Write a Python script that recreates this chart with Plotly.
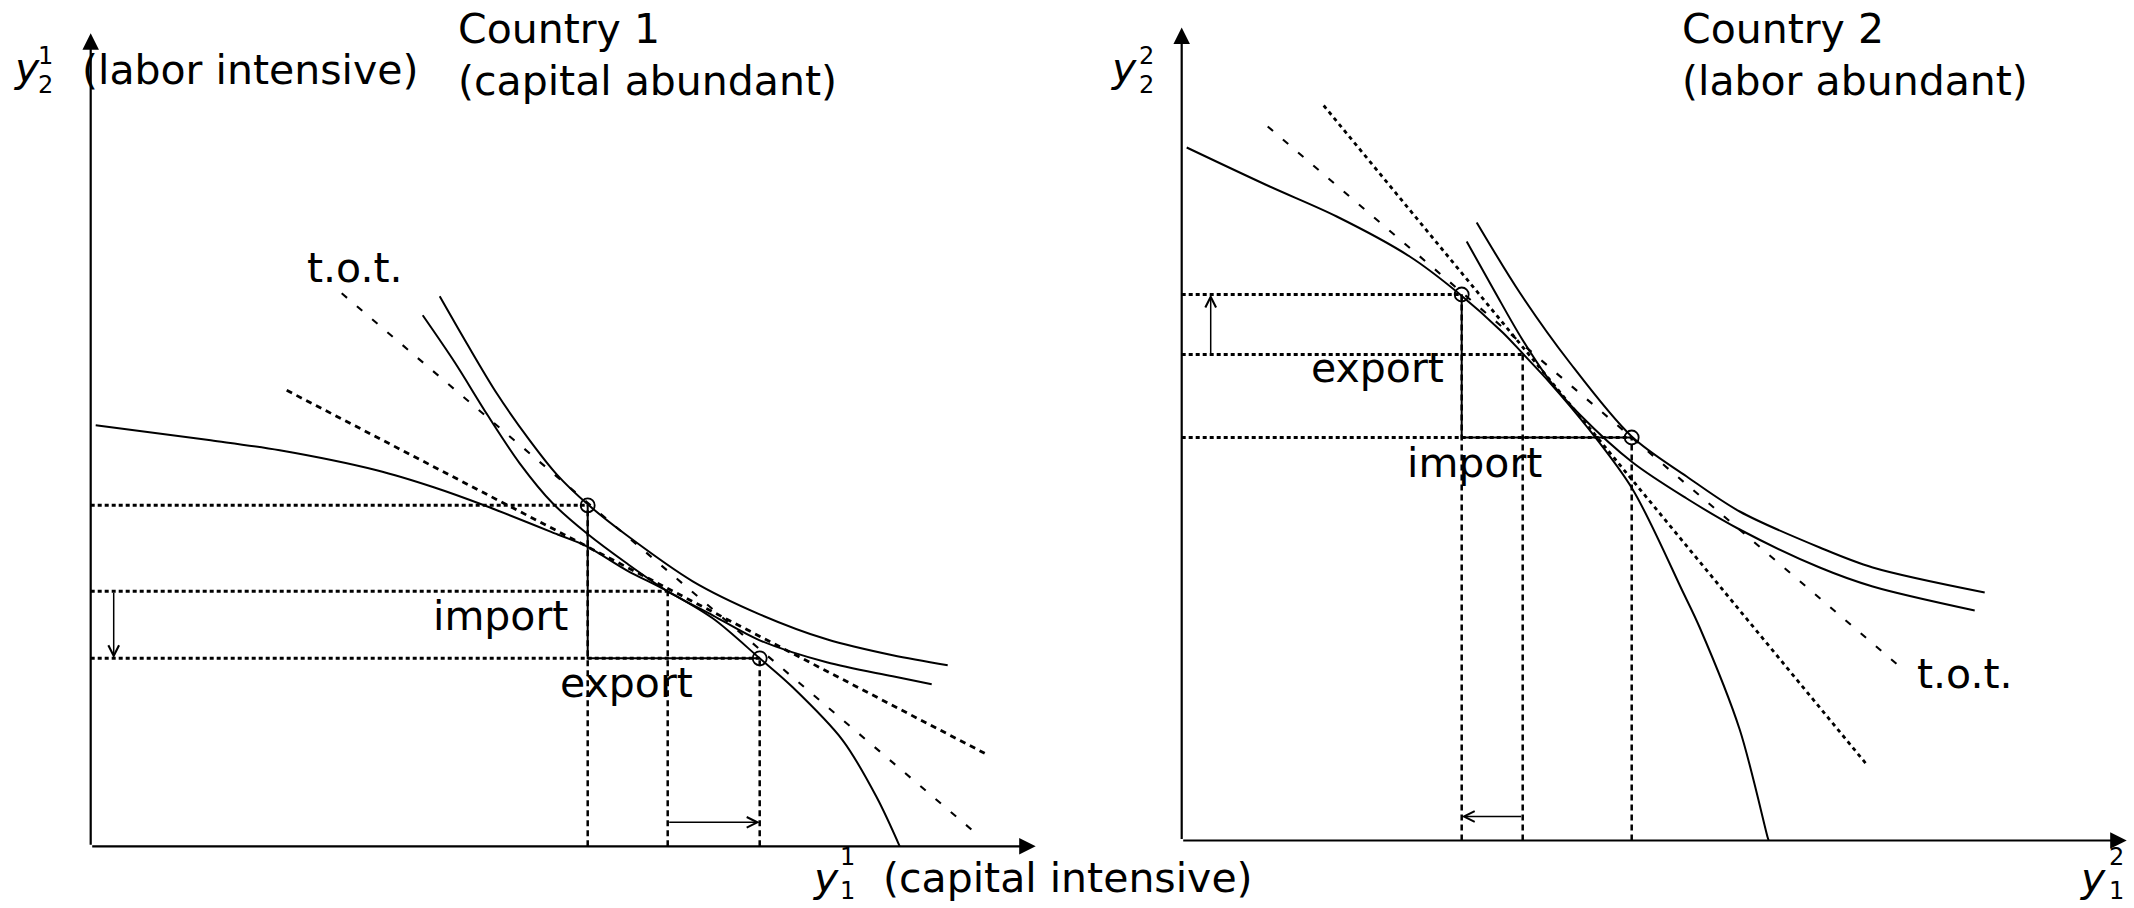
import plotly.graph_objects as go

# ---------------- Country 1 (left panel), model units ----------------
ppf1_x = [0.05, 1.20, 1.89, 2.86, 3.43, 3.96, 4.69, 4.96, 5.36, 5.77, 6.22, 6.69, 7.02, 7.52, 7.86, 8.09]
ppf1_y = [4.21, 4.06, 3.96, 3.76, 3.59, 3.40, 3.11, 3.00, 2.76, 2.55, 2.28, 1.88, 1.59, 1.06, 0.49, 0.00]
ic1_lo_x = [3.32, 3.64, 3.97, 4.29, 4.62, 4.96, 5.36, 5.77, 6.22, 6.69, 7.36, 8.02, 8.41]
ic1_lo_y = [5.31, 4.84, 4.31, 3.83, 3.43, 3.13, 2.83, 2.55, 2.31, 2.06, 1.84, 1.70, 1.62]
ic1_hi_x = [3.49, 3.76, 4.06, 4.39, 4.66, 4.97, 5.36, 6.02, 6.69, 7.36, 8.02, 8.57]
ic1_hi_y = [5.50, 5.03, 4.53, 4.06, 3.72, 3.42, 3.11, 2.65, 2.32, 2.07, 1.91, 1.81]
tot1_x = [2.51, 8.84]
tot1_y = [5.53, 0.14]
aut1_x = [1.96, 8.94]
aut1_y = [4.56, 0.93]
prod1 = [6.69, 1.88]   # production point
cons1 = [4.97, 3.41]   # consumption point
autk1 = [5.77, 2.55]   # autarky point

# ---------------- Country 2 (right panel), model units ----------------
ppf2_x = [0.05, 0.88, 1.55, 2.28, 2.76, 3.21, 3.41, 3.68, 4.05, 4.51, 5.01, 5.18, 5.58, 5.86, 5.87]
ppf2_y = [6.93, 6.54, 6.24, 5.84, 5.48, 5.08, 4.87, 4.58, 4.14, 3.51, 2.49, 2.13, 1.11, 0.03, 0.00]
ic2_lo_x = [2.85, 3.13, 3.40, 3.68, 3.98, 4.51, 5.05, 5.58, 6.38, 6.91, 7.93]
ic2_lo_y = [5.99, 5.49, 5.02, 4.60, 4.26, 3.78, 3.42, 3.11, 2.73, 2.54, 2.30]
ic2_hi_x = [2.95, 3.38, 3.88, 4.50, 5.05, 5.58, 6.38, 6.91, 8.03]
ic2_hi_y = [6.18, 5.48, 4.78, 4.04, 3.64, 3.29, 2.93, 2.73, 2.48]
tot2_x = [0.86, 7.18]
tot2_y = [7.14, 1.74]
aut2_x = [1.42, 6.85]
aut2_y = [7.35, 0.76]
prod2 = [2.80, 5.46]
cons2 = [4.50, 4.03]
autk2 = [3.41, 4.86]

axis_len = [9.45, 8.13, 9.45, 8.13]  # x1 tip, y1 tip, x2 tip, y2 tip

W, H = 2134, 908
FONT = "DejaVu Sans"
FS = 41
FS_SMALL = 24
K = "black"

fig = go.Figure()


def line(x, y, p, dash="solid", width=1.8, spline=False):
    xa, ya = ("x", "y") if p == 1 else ("x2", "y2")
    fig.add_trace(go.Scatter(
        x=x, y=y, xaxis=xa, yaxis=ya, mode="lines",
        line=dict(color=K, width=width, dash=dash,
                  shape="spline" if spline else "linear", smoothing=0.9),
        hoverinfo="skip", showlegend=False))


def point(pt, p):
    xa, ya = ("x", "y") if p == 1 else ("x2", "y2")
    fig.add_trace(go.Scatter(
        x=[pt[0]], y=[pt[1]], xaxis=xa, yaxis=ya, mode="markers",
        marker=dict(symbol="circle-open", size=14, color=K, line=dict(width=1.8, color=K)),
        hoverinfo="skip", showlegend=False))


def arrow(x0, y0, x1, y1, p, head=2, size=1.5, width=2.2):
    xr, yr = ("x", "y") if p == 1 else ("x2", "y2")
    fig.add_annotation(x=x1, y=y1, ax=x0, ay=y0, xref=xr, yref=yr, axref=xr, ayref=yr,
                       text="", showarrow=True, arrowhead=head, arrowsize=size,
                       arrowwidth=width, arrowcolor=K, standoff=0, startstandoff=0)


def label(s, x, y, p, xanchor="center", size=FS):
    xr, yr = ("x", "y") if p == 1 else ("x2", "y2")
    fig.add_annotation(x=x, y=y, xref=xr, yref=yr, text=s, showarrow=False,
                       xanchor=xanchor, yanchor="middle",
                       font=dict(family=FONT, size=size, color=K))


def ptext(s, px, py, xanchor="center", size=FS):
    fig.add_annotation(x=px / W, y=1 - py / H, xref="paper", yref="paper", text=s,
                       showarrow=False, xanchor=xanchor, yanchor="middle",
                       font=dict(family=FONT, size=size, color=K))


HDOT = "4px,3px"
VDASH = "6px,4px"
TOT = "7px,13px"

for p, prod, cons, autk, ppfx, ppfy, lox, loy, hix, hiy, totx, toty, autx, auty, autdash in [
        (1, prod1, cons1, autk1, ppf1_x, ppf1_y, ic1_lo_x, ic1_lo_y, ic1_hi_x, ic1_hi_y,
         tot1_x, tot1_y, aut1_x, aut1_y, "6px,5px"),
        (2, prod2, cons2, autk2, ppf2_x, ppf2_y, ic2_lo_x, ic2_lo_y, ic2_hi_x, ic2_hi_y,
         tot2_x, tot2_y, aut2_x, aut2_y, "4px,4px")]:
    # price lines
    line(totx, toty, p, dash=TOT, width=2.1)
    line(autx, auty, p, dash=autdash, width=2.8)
    # guide lines
    line([0, cons[0]], [cons[1], cons[1]], p, dash=HDOT, width=3.0)
    line([0, autk[0]], [autk[1], autk[1]], p, dash=HDOT, width=3.0)
    line([autk[0], autk[0]], [0, autk[1]], p, dash=VDASH, width=2.5)
    line([cons[0], cons[0]], [0, cons[1]], p, dash=VDASH, width=2.5)
    line([prod[0], prod[0]], [0, prod[1]], p, dash=VDASH, width=2.5)
    line([0, prod[0]], [prod[1], prod[1]], p, dash=HDOT, width=3.0)
    # trade triangle
    if p == 1:
        line([cons[0], cons[0], prod[0]], [cons[1], prod[1], prod[1]], p, width=2.0)
    else:
        line([prod[0], prod[0], cons[0]], [prod[1], cons[1], cons[1]], p, width=2.0)
    # curves
    line(ppfx, ppfy, p, width=2.0, spline=True)
    line(lox, loy, p, width=2.0, spline=True)
    line(hix, hiy, p, width=2.0, spline=True)
    point(prod, p)
    point(cons, p)

# axes with arrow heads
arrow(0, 0, axis_len[0], 0, 1)
arrow(0, 0, 0, axis_len[1], 1)
arrow(0, 0, axis_len[2], 0, 2)
arrow(0, 0, 0, axis_len[3], 2)

# change arrows
arrow(0.23, autk1[1], 0.23, prod1[1], 1, head=5, size=1.4, width=1.5)
arrow(autk1[0], 0.24, prod1[0], 0.24, 1, head=5, size=1.4, width=1.5)
arrow(0.29, autk2[1], 0.29, prod2[1], 2, head=5, size=1.4, width=1.5)
arrow(autk2[0], 0.24, prod2[0], 0.24, 2, head=5, size=1.4, width=1.5)

# in-panel labels
label("t.o.t.", 2.64, 5.78, 1)
label("import", 4.79, 2.30, 1, xanchor="right")
label("export", 5.36, 1.63, 1)
label("export", 2.64, 4.73, 2, xanchor="right")
label("import", 2.93, 3.78, 2)
label("t.o.t.", 7.33, 1.67, 2, xanchor="left")

# outer labels (left panel)
ptext("<i>y</i>", 26, 68)
ptext("1", 45, 56, size=FS_SMALL)
ptext("2", 45, 85, size=FS_SMALL)
ptext("(labor intensive)", 80, 70, xanchor="left")
ptext("Country 1", 456, 29, xanchor="left")
ptext("(capital abundant)", 456, 81, xanchor="left")
ptext("<i>y</i>", 825, 878)
ptext("1", 847, 857, size=FS_SMALL)
ptext("1", 847, 891, size=FS_SMALL)
ptext("(capital intensive)", 881, 878, xanchor="left")

# outer labels (right panel)
ptext("<i>y</i>", 1123, 68)
ptext("2", 1146, 56, size=FS_SMALL)
ptext("2", 1146, 85, size=FS_SMALL)
ptext("Country 2", 1680, 29, xanchor="left")
ptext("(labor abundant)", 1680, 81, xanchor="left")
ptext("<i>y</i>", 2092, 878)
ptext("2", 2116, 857, size=FS_SMALL)
ptext("1", 2116, 891, size=FS_SMALL)

ox1, oy1 = 90.7, 846.3
ox2, oy2 = 1181.7, 840.5
fig.update_layout(
    width=W, height=H, margin=dict(l=0, r=0, t=0, b=0),
    paper_bgcolor="white", plot_bgcolor="rgba(0,0,0,0)", showlegend=False,
    xaxis=dict(domain=[0, 1], range=[-ox1 / 100, (W - ox1) / 100], visible=False, fixedrange=True),
    yaxis=dict(domain=[0, 1], range=[(oy1 - H) / 100, oy1 / 100], visible=False, fixedrange=True),
    xaxis2=dict(domain=[0, 1], anchor="y2", range=[-ox2 / 100, (W - ox2) / 100], visible=False, fixedrange=True),
    yaxis2=dict(domain=[0, 1], anchor="x2", range=[(oy2 - H) / 100, oy2 / 100], visible=False, fixedrange=True),
)

fig.write_html("out.html", config={"displayModeBar": False},
               post_script="document.body.style.margin='0px';document.body.style.overflow='hidden';")
